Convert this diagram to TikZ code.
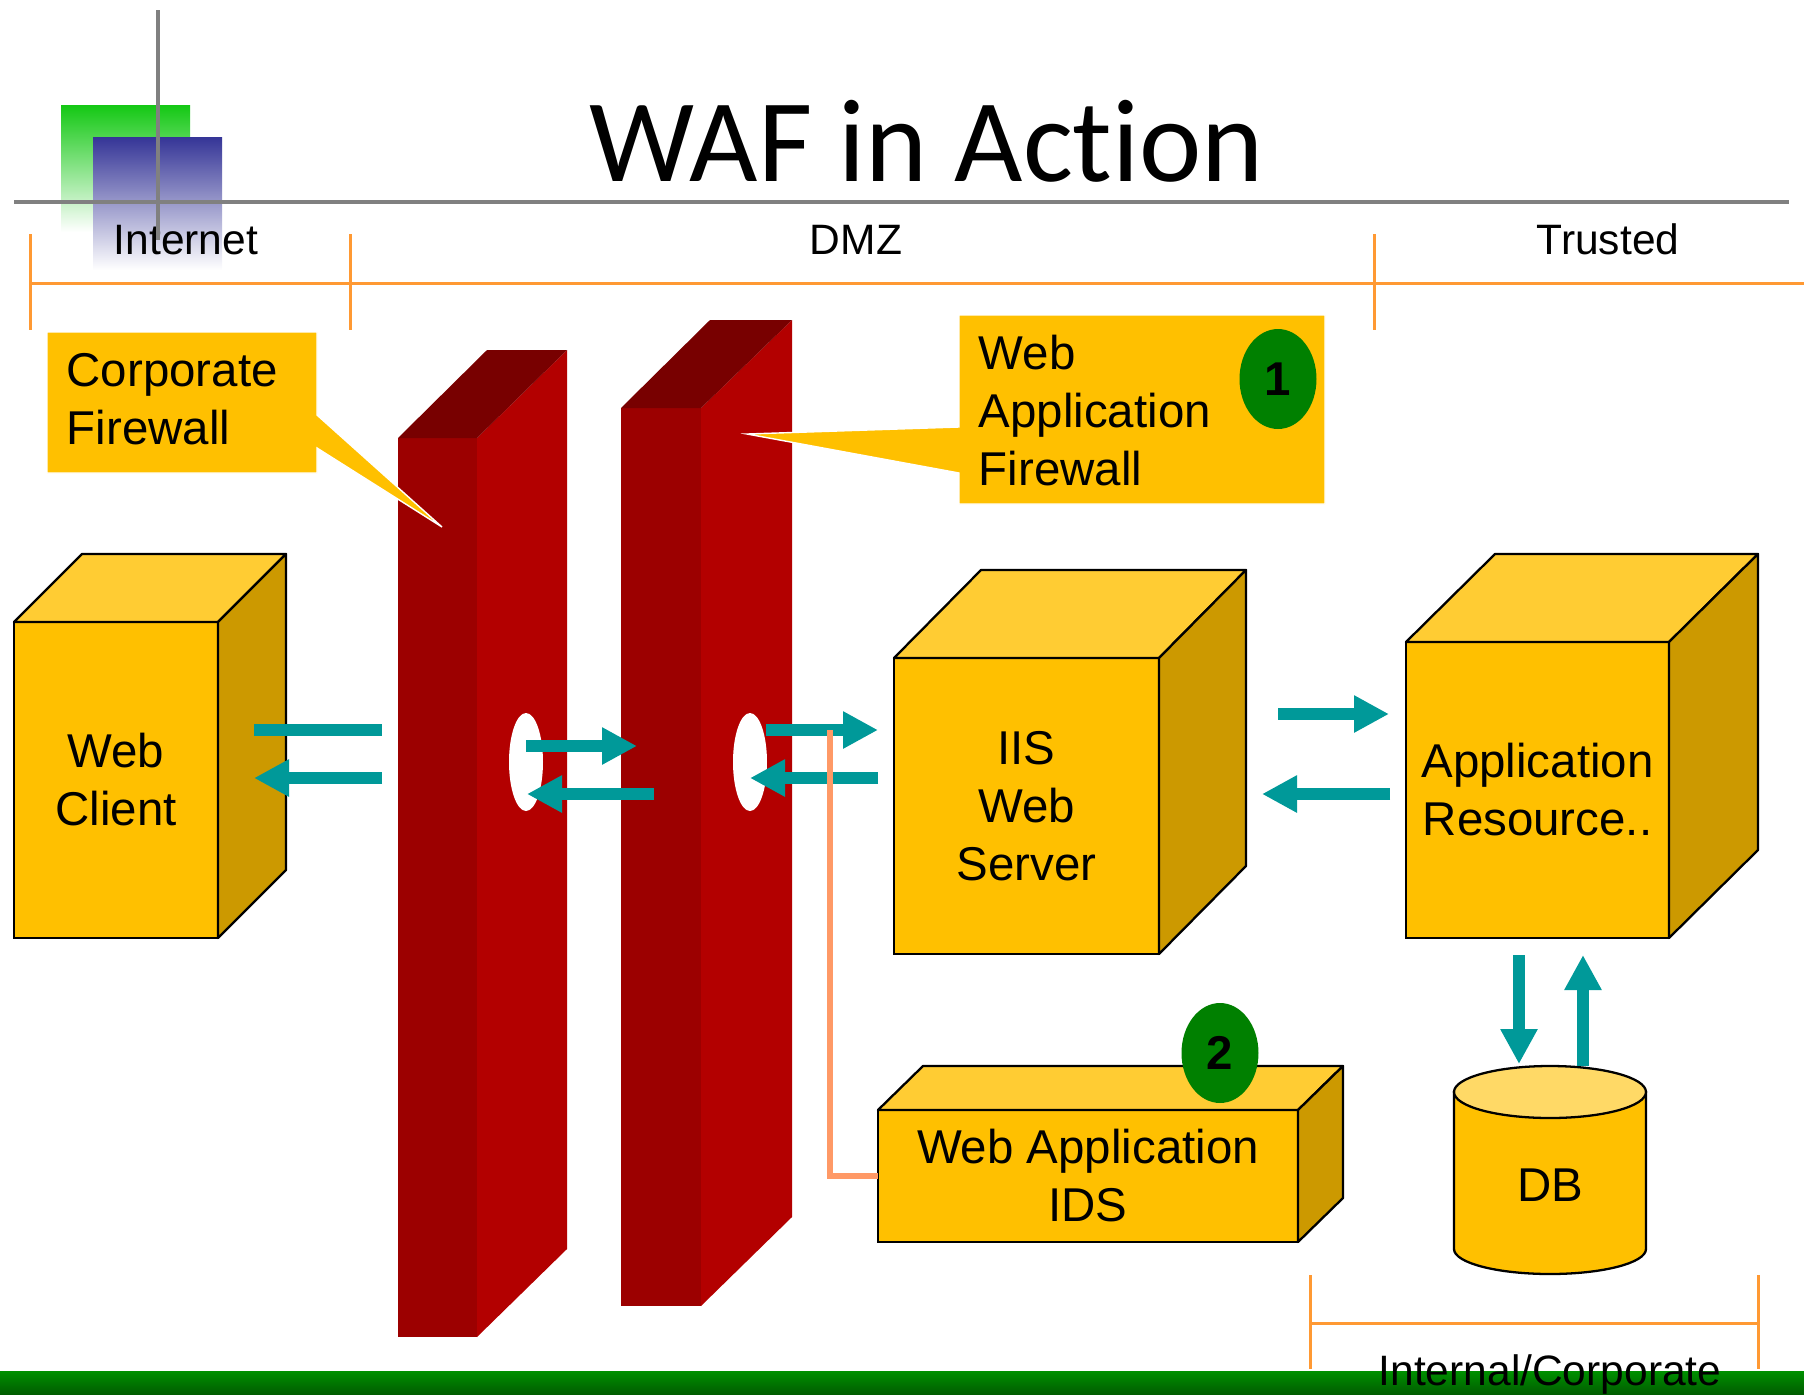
\documentclass[tikz,border=0pt]{standalone}
\usepackage{fontspec}
\setmainfont{Liberation Sans}
\newfontfamily\titlefont[Ligatures=NoCommon]{Carlito}
\usetikzlibrary{arrows.meta,calc,shapes.geometric}

\definecolor{boxfront}{HTML}{FFC000}
\definecolor{boxtop}{HTML}{FFCC33}
\definecolor{boxside}{HTML}{CC9900}
\definecolor{fwfront}{HTML}{9C0000}
\definecolor{fwside}{HTML}{B30000}
\definecolor{fwtop}{HTML}{780000}
\definecolor{flowteal}{HTML}{009999}
\definecolor{zoneline}{HTML}{FF9933}
\definecolor{idslink}{HTML}{FF9966}
\definecolor{badge}{HTML}{008000}
\definecolor{rulegray}{HTML}{808080}
\definecolor{logogreen}{HTML}{14C814}
\definecolor{logoblue}{HTML}{353597}
\definecolor{dbtop}{HTML}{FFD966}
\definecolor{bargreen}{HTML}{009000}
\definecolor{bardark}{HTML}{005A00}

\newcommand\bodyfont{\fontsize{13.5}{16.5}\selectfont}
\newcommand\zonefont{\fontsize{12.1}{14}\selectfont}

% top and side faces of a box whose front face is the node #1
\newcommand\cubefaces[3]{%
  \filldraw[boxtop, draw=black, line width=0.65pt, line join=round]
    (#1.north west) -- ++(#2,-#3) -- ($(#1.north east)+(#2,-#3)$) -- (#1.north east) -- cycle;
  \filldraw[boxside, draw=black, line width=0.65pt, line join=round]
    (#1.north east) -- ++(#2,-#3) -- ($(#1.south east)+(#2,-#3)$) -- (#1.south east) -- cycle;
}

\tikzset{
  cubefront/.style={draw=black, fill=boxfront, line width=0.65pt, inner sep=0pt,
    outer sep=0pt, align=center, font=\bodyfont},
  zone/.style={draw=zoneline, line width=0.3mm},
  rule/.style={draw=rulegray, line width=0.33mm},
  flow/.style={draw=flowteal, line width=1.17mm,
    -{Triangle[length=3.5mm, width=3.5mm]}},
  flowplain/.style={draw=flowteal, line width=1.17mm},
  callout/.style={fill=boxfront, draw=white, line width=0.4pt},
  badgenode/.style={ellipse, fill=badge, inner sep=0pt, minimum width=7.7mm,
    minimum height=10mm, font=\bodyfont\bfseries},
  hole/.style={fill=white},
}

\begin{document}
\begin{tikzpicture}[x=0.1mm, y=-0.1mm]
\useasboundingbox (0,0) rectangle (1804,1395);

% logo squares
\shade[top color=logogreen, bottom color=white] (61,105) rectangle (190,232);
\shade[top color=logoblue, bottom color=white] (93,137) rectangle (222,270);

% title
\node[font=\titlefont\fontsize{33.6}{40}\selectfont, anchor=base] (title) at (927,181) {WAF in Action};

% zone labels
\node[font=\zonefont, anchor=base] (inet) at (186,254) {Internet};
\node[font=\zonefont, anchor=base] (dmz) at (856,254) {DMZ};
\node[font=\zonefont, anchor=base] (trusted) at (1608,254) {Trusted};

% rules
\draw[rule] (158,10) -- (158,240);
\draw[rule] (14,202) -- (1789,202);

% zone brackets
\draw[zone] (30,283) -- (1804,283);
\draw[zone] (30,234) -- (30,330);
\draw[zone] (350,234) -- (350,330);
\draw[zone] (1374,234) -- (1374,330);

% bottom bar and internal zone
\shade[top color=bargreen, bottom color=bardark] (0,1371) rectangle (1804,1395);
\draw[zone] (1310,1275) -- (1310,1369);
\draw[zone] (1758,1275) -- (1758,1369);
\draw[zone] (1310,1323) -- (1758,1323);
\node[font=\zonefont, anchor=base] (internal) at (1550,1385) {Internal/Corporate};

% corporate firewall
\fill[fwfront] (398,438) rectangle (477,1337);
\fill[fwside] (477,438) -- (567,350) -- (567,1249) -- (477,1337) -- cycle;
\fill[fwtop] (398,438) -- (487,350) -- (567,350) -- (477,438) -- cycle;

% web application firewall
\fill[fwfront] (621,408) rectangle (701,1306);
\fill[fwside] (701,408) -- (792,320) -- (792,1217) -- (701,1306) -- cycle;
\fill[fwtop] (621,408) -- (710,320) -- (792,320) -- (701,408) -- cycle;

% openings in the firewalls
\fill[hole] (526,762) ellipse[x radius=1.7mm, y radius=4.9mm];
\fill[hole] (750,762) ellipse[x radius=1.7mm, y radius=4.9mm];

% callouts
\path[callout] (47,332) -- (317,332) -- (317,415) -- (442,527) -- (317,448)
  -- (317,473) -- (47,473) -- cycle;
\node[font=\bodyfont, align=left, anchor=west, inner sep=0pt] (cfw) at (66,399) {Corporate\\Firewall};

\path[callout] (959,315) -- (1325,315) -- (1325,504) -- (959,504) -- (959,473)
  -- (747,434) -- (959,427) -- cycle;
\node[font=\bodyfont, align=left, anchor=west, inner sep=0pt] (wafl) at (978,411) {Web\\Application\\Firewall};
\node[badgenode] (b1) at (1278,379) {1};

% hosts
\node[cubefront, minimum width=20.4mm, minimum height=31.6mm] (client) at (116,780) {Web\\Client};
\cubefaces{client}{68}{68}

\node[cubefront, minimum width=26.5mm, minimum height=29.6mm] (iis) at (1026.5,806) {IIS\\Web\\Server};
\cubefaces{iis}{87}{88}

\node[cubefront, minimum width=26.3mm, minimum height=29.6mm] (app) at (1537.5,790) {Application\\Resource..};
\cubefaces{app}{89}{88}

\node[cubefront, minimum width=42mm, minimum height=13.2mm] (ids) at (1088,1176) {Web Application\\IDS};
\cubefaces{ids}{45}{44}
\node[badgenode] (b2) at (1220,1053) {2};

% database
\filldraw[fill=boxfront, draw=black, line width=0.65pt]
  (1454,1092) -- (1454,1249) arc[start angle=180, end angle=360, x radius=9.6mm, y radius=2.5mm]
  -- (1646,1092) -- cycle;
\filldraw[fill=dbtop, draw=black, line width=0.65pt] (1550,1092) ellipse[x radius=9.6mm, y radius=2.6mm];
\node[font=\bodyfont] (db) at (1550,1185) {DB};

% traffic arrows
\coordinate (c1a) at (254,730); \coordinate (c1b) at (382,730);
\coordinate (c2a) at (382,778); \coordinate (c2b) at (254,778);
\coordinate (f1a) at (526,746); \coordinate (f1b) at (637,746);
\coordinate (f2a) at (654,794); \coordinate (f2b) at (527,794);
\coordinate (w1a) at (766,730); \coordinate (w1b) at (878,730);
\coordinate (w2a) at (878,778); \coordinate (w2b) at (750,778);
\coordinate (s1a) at (1278,714); \coordinate (s1b) at (1389,714);
\coordinate (s2a) at (1390,794); \coordinate (s2b) at (1262,794);
\coordinate (d1a) at (1519,955); \coordinate (d1b) at (1519,1064);
\coordinate (d2a) at (1583,1066); \coordinate (d2b) at (1583,955);

\draw[flowplain] (c1a) -- (c1b);
\draw[flow] (c2a) -- (c2b);
\draw[flow] (f1a) -- (f1b);
\draw[flow] (f2a) -- (f2b);
\draw[flow] (w1a) -- (w1b);
\draw[flow] (w2a) -- (w2b);
\draw[flow] (s1a) -- (s1b);
\draw[flow] (s2a) -- (s2b);
\draw[flow] (d1a) -- (d1b);
\draw[flow] (d2a) -- (d2b);

% mirror link to the IDS
\coordinate (tap) at (830,730);
\draw[idslink, line width=0.65mm] (tap) |- (ids.west);
\end{tikzpicture}
\end{document}
